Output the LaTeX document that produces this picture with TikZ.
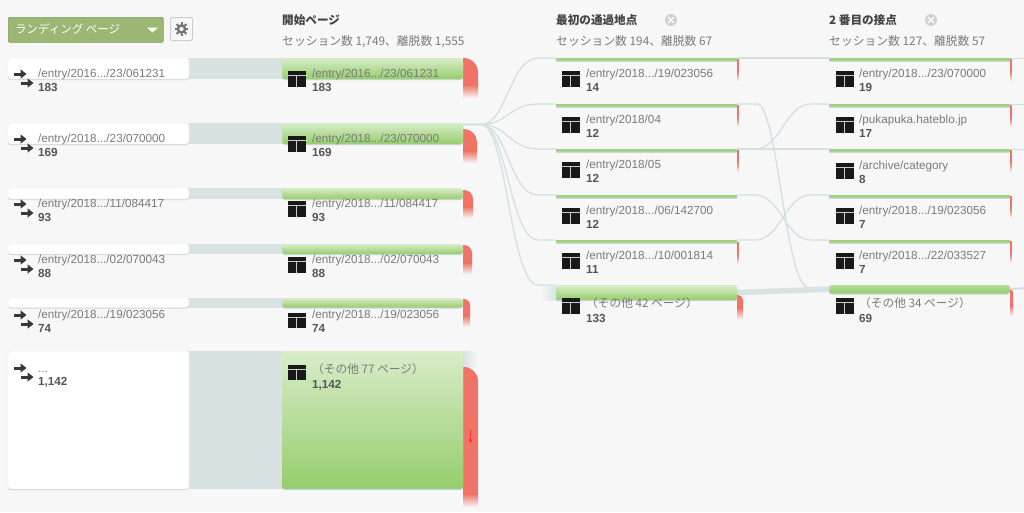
\documentclass[tikz,border=0pt]{standalone}
\usepackage{fontspec}
\setmainfont{Liberation Sans}
\newfontfamily\jpf{Noto Sans CJK JP}
\usetikzlibrary{arrows.meta,shadows,calc}
\definecolor{bgc}{HTML}{F7F7F7}
\definecolor{bandc}{HTML}{D8E2E3}
\definecolor{linec}{HTML}{D2E1E0}
\definecolor{grnT}{HTML}{D8ECC9}
\definecolor{grnB}{HTML}{96CD6C}
\definecolor{redc}{HTML}{EF7467}
\definecolor{txtc}{HTML}{7A7A7A}
\definecolor{numc}{HTML}{555555}
\definecolor{headc}{HTML}{444444}
\definecolor{shc}{HTML}{CBD7D7}
\definecolor{btnc}{HTML}{9CB673}
\definecolor{btnd}{HTML}{7F9A58}
\tikzset{
  box/.style={anchor=north west,inner sep=0pt,outer sep=0pt,rounded corners=3pt,minimum width=181pt,
    drop shadow={shadow xshift=0pt,shadow yshift=-1.2pt,fill=shc,opacity=1}},
  whitecard/.style={box,fill=white,draw=shc!45,line width=0.4pt},
  greencard/.style={box,top color=grnT,bottom color=grnB},
  greenbar/.style={box,rounded corners=0.5pt,fill=grnB!90!white,
    drop shadow={shadow xshift=0pt,shadow yshift=-1pt,fill=shc,opacity=0.7}},
  flowline/.style={draw=linec,line width=1.3pt,line cap=round},
  pagetxt/.style={anchor=base west,inner sep=0pt,text=txtc,font=\fontsize{11.7}{12}\selectfont},
  pagecnt/.style={anchor=base west,inner sep=0pt,text=numc,font=\fontsize{11.7}{12}\selectfont\bfseries},
  headtitle/.style={anchor=base west,inner sep=0pt,text=headc,font=\jpf\fontsize{11.6}{12}\selectfont\bfseries},
  headsub/.style={anchor=base west,inner sep=0pt,text=txtc,font=\jpf\fontsize{11.8}{12}\selectfont},
  closeic/.style={circle,fill=black!18,minimum size=12pt,inner sep=0pt},
}
% name, x, text y, count y, text, count
\newcommand{\rowlab}[6]{%
  \node[pagetxt] (#1t) at (#2,#3+4) {#5};
  \node[pagecnt] (#1c) at (#2,#4+4) {#6};}
% page icon: left x, top y, height
\newcommand{\pageic}[3]{%
  \fill[black!90] (#1,#2) rectangle ++(17.5,#3);
  \fill[white!80!black] (#1,#2+4) rectangle ++(17.5,1);
  \fill[white!80!black] (#1+8.3,#2+5) rectangle ++(1,#3-5);}
% entrance icon: x, y
\newcommand{\entryic}[2]{%
  \draw[line width=3pt,draw=black!78,-{Triangle[width=9pt,length=6pt]}] (#1,#2) -- ++(12.5,0);
  \draw[line width=3pt,draw=black!78,-{Triangle[width=9pt,length=6pt]}] (#1+7,#2+9) -- ++(12.5,0);}
% exit flag: left, top, right, bottom, radius, fade length
\newcommand{\exitflag}[6]{%
  \fill[redc] (#1,#2) -- (#3-#5,#2) .. controls (#3-0.45*#5,#2) and (#3,#2+0.45*#5) .. (#3,#2+#5)
     -- (#3,#4-#6) -- (#1,#4-#6) -- cycle;
  \shade[top color=redc,bottom color=bgc] (#1,#4-#6-0.2) rectangle (#3,#4);}
% thin exit marker: x, top
\newcommand{\thinexit}[3]{%
  \fill[redc] (#1,#2) rectangle (#1+#3,#2+13);
  \shade[top color=redc,bottom color=bgc] (#1,#2+13) rectangle (#1+#3,#2+22);}
\begin{document}
\begin{tikzpicture}[x=1pt,y=-1pt]
\useasboundingbox (0,0) rectangle (1024,512);
\fill[bgc] (0,0) rectangle (1024,512);

% top controls
\node[anchor=north west,inner sep=0pt,rounded corners=2pt,minimum width=155pt,minimum height=25pt,
  fill=btnc,draw=btnd,line width=0.7pt] (btn) at (8,17) {};
\node[anchor=west,inner sep=0pt,text=white,font=\jpf\fontsize{11.5}{12}\selectfont] (btnt) at (15,29.5) {ランディング ページ};
\fill[white] (147,27.5) -- (158,27.5) -- (152.5,32.5) -- cycle;
\node[anchor=north west,inner sep=0pt,rounded corners=2pt,minimum width=22pt,minimum height=23pt,
  fill=bgc,draw=black!20,line width=1pt] (gearbox) at (170,17) {};
\draw[black!55,line width=2.4pt] (gearbox.center) circle[radius=3.6pt];
\foreach \a in {0,45,...,315}{
  \draw[black!55,line width=2pt] (gearbox.center) ++(\a:4.5pt) -- ++(\a:2.4pt);
}

% headers
\node[headtitle] (h1) at (282,24) {開始ページ};
\node[headsub] (h1s) at (282,45) {セッション数 1,749、離脱数 1,555};
\node[headtitle] (h2) at (556,24) {最初の通過地点};
\node[headsub] (h2s) at (556,45) {セッション数 194、離脱数 67};
\node[headtitle] (h3) at (829,24) {2 番目の接点};
\node[headsub] (h3s) at (829,45) {セッション数 127、離脱数 57};
\node[closeic] (x1) at (671,20) {};
\draw[white,line width=1.1pt] (x1.center) +(-2.8,-2.8) -- +(2.8,2.8) +(-2.8,2.8) -- +(2.8,-2.8);
\node[closeic] (x2) at (931,20) {};
\draw[white,line width=1.1pt] (x2.center) +(-2.8,-2.8) -- +(2.8,2.8) +(-2.8,2.8) -- +(2.8,-2.8);

% bands between landing and start columns
\fill[bandc] (185,58) rectangle (286,79);
\fill[bandc] (185,123) rectangle (286,144);
\fill[bandc] (185,188) rectangle (286,199);
\fill[bandc] (185,244) rectangle (286,254);
\fill[bandc] (185,298) rectangle (286,308);
\fill[bandc] (185,351) rectangle (286,489);
% faint continuation beside the biggest box
\shade[left color=bandc,right color=bgc] (463,351) rectangle (478,367);
% faint fan entering the waypoint group
\shade[left color=bgc,right color=bandc] (540,286) rectangle (557,300);

% exits of start column
\exitflag{463}{58}{478}{98}{14}{13}
\exitflag{463}{129}{477}{163}{13}{12}
\exitflag{463}{190}{473}{218}{9}{11}
\exitflag{463}{245}{472}{274}{8}{11}
\exitflag{463}{299}{470}{327}{6}{11}
\exitflag{463}{367}{478}{507}{14}{13}
\coordinate (da) at (470.5,430);
\coordinate (db) at (470.5,443);
\draw[draw=red!55!redc,line width=0.7pt,-{Stealth[open,width=4.5pt,length=4.5pt]}] (da) -- (db);

% landing column
\node[whitecard,minimum height=21pt] (l1) at (8,58) {};
\node[whitecard,minimum height=21pt] (l2) at (8,123) {};
\node[whitecard,minimum height=11pt] (l3) at (8,188) {};
\node[whitecard,minimum height=10pt] (l4) at (8,244) {};
\node[whitecard,minimum height=9.5pt] (l5) at (8,298) {};
\node[whitecard,minimum height=138pt] (l6) at (8,351) {};

% start column
\node[greencard,minimum height=21pt] (s1) at (282,58) {};
\node[greencard,minimum height=21pt] (s2) at (282,123) {};
\node[greencard,minimum height=11pt] (s3) at (282,188) {};
\node[greencard,minimum height=10pt] (s4) at (282,244) {};
\node[greencard,minimum height=9.5pt] (s5) at (282,298) {};
\node[greencard,minimum height=138pt] (s6) at (282,351) {};

% first waypoint column
\node[greenbar,minimum height=2.6pt] (a1) at (556,58) {};
\node[greenbar,minimum height=2.6pt] (a2) at (556,104) {};
\node[greenbar,minimum height=2.6pt] (a3) at (556,149) {};
\node[greenbar,minimum height=2.6pt] (a4) at (556,195) {};
\node[greenbar,minimum height=2.6pt] (a5) at (556,240) {};
\node[greencard,rounded corners=2pt,minimum height=15pt] (a6) at (556,285) {};

% second column
\node[greenbar,minimum height=2.6pt] (b1) at (829,58) {};
\node[greenbar,minimum height=2.6pt] (b2) at (829,104) {};
\node[greenbar,minimum height=2.6pt] (b3) at (829,149) {};
\node[greenbar,minimum height=2.6pt] (b4) at (829,195) {};
\node[greenbar,minimum height=2.6pt] (b5) at (829,240) {};
\node[greencard,rounded corners=3pt,top color=grnB!70!white,bottom color=grnB,minimum height=8.5pt] (b6) at (829,285) {};

% right edge
\coordinate (e1) at (1024,58);
\coordinate (e2) at (1024,104);
\coordinate (e3) at (1024,150);
\coordinate (e6) at (1024,288);

% connectors from start column
\foreach \t in {a1,a2,a3,a4,a5,a6}{
  \draw[flowline] (s2.north east) ++(0,1.5) -- ++(18,0)
    .. controls +(26,0) and +(-28,0) .. ($(\t.north west)+(-18,0)$) -- (\t.north west);
}
% connectors between waypoint columns
\draw[flowline] (a1.north east) -- (b1.north west);
\draw[flowline] (a3.north east) -- (b3.north west);
\draw[flowline] (a2.north east) -- ++(20,0) .. controls +(21,0) and +(-24,0) .. ($(b6.north west)+(-20,3)$) -- ($(b6.north west)+(0,3)$);
\draw[flowline] (a3.north east) -- ++(18,0) .. controls +(26,0) and +(-26,0) .. ($(b2.north west)+(-18,0)$) -- (b2.north west);
\draw[flowline] (a4.north east) -- ++(18,0) .. controls +(26,0) and +(-26,0) .. ($(b5.north west)+(-18,0)$) -- (b5.north west);
\draw[flowline] (a5.north east) -- ++(18,0) .. controls +(26,0) and +(-26,0) .. ($(b4.north west)+(-18,0)$) -- (b4.north west);
\draw[draw=bandc,line width=5.5pt] (a6.east) -- (b6.west);
% faint lines leaving last column
\draw[draw=linec,line width=1pt] (b1.north east) -- (e1);
\draw[draw=linec,line width=1pt] (b2.north east) -- (e2);
\draw[draw=linec,line width=1pt] (b3.north east) -- (e3);
\draw[draw=linec,line width=2pt] (b6.east) -- (e6);

% exit markers for thin columns
\thinexit{737}{59}{1.5}
\thinexit{737}{105}{1.5}
\thinexit{737}{150}{1.5}
\thinexit{737}{242}{1.5}
\thinexit{1010}{59}{1.5}
\thinexit{1010}{105}{1.5}
\thinexit{1010}{150}{1.5}
\thinexit{1010}{196}{1.5}
\thinexit{1010}{241}{1.5}
\exitflag{737}{295}{743}{320}{5}{12}
\exitflag{1010}{290}{1013}{316}{2}{10}

% icons
\entryic{14}{74} \entryic{14}{139} \entryic{14}{204} \entryic{14}{260} \entryic{14}{315} \entryic{14}{368}
\pageic{288}{71}{16} \pageic{288}{136}{16} \pageic{288}{201}{16} \pageic{288}{257}{16} \pageic{288}{313}{15} \pageic{288}{365}{15}
\pageic{562}{71}{16} \pageic{562}{117}{16} \pageic{562}{162}{16} \pageic{562}{208}{16} \pageic{562}{253}{16} \pageic{562}{298}{16}
\pageic{836}{71}{16} \pageic{836}{117}{16} \pageic{836}{163}{16} \pageic{836}{208}{16} \pageic{836}{253}{16} \pageic{836}{298}{16}

% labels
\rowlab{lo}{38}{73}{87}{/entry/2016.../23/061231}{183}
\rowlab{lw}{38}{138}{152}{/entry/2018.../23/070000}{169}
\rowlab{lh}{38}{203}{217}{/entry/2018.../11/084417}{93}
\rowlab{lf}{38}{259}{273}{/entry/2018.../02/070043}{88}
\rowlab{lv}{38}{314}{328}{/entry/2018.../19/023056}{74}
\rowlab{lx}{38}{368}{381}{...}{1,142}
\rowlab{so}{312}{73}{87}{/entry/2016.../23/061231}{183}
\rowlab{sw}{312}{138}{152}{/entry/2018.../23/070000}{169}
\rowlab{sh}{312}{203}{217}{/entry/2018.../11/084417}{93}
\rowlab{sf}{312}{259}{273}{/entry/2018.../02/070043}{88}
\rowlab{sv}{312}{314}{328}{/entry/2018.../19/023056}{74}
\rowlab{sx}{312}{369}{384}{\jpf （その他 77 ページ）}{1,142}
\rowlab{ao}{586}{73}{87}{/entry/2018.../19/023056}{14}
\rowlab{aw}{586}{119}{133}{/entry/2018/04}{12}
\rowlab{ah}{586}{164}{178}{/entry/2018/05}{12}
\rowlab{af}{586}{210}{224}{/entry/2018.../06/142700}{12}
\rowlab{av}{586}{255}{269}{/entry/2018.../10/001814}{11}
\rowlab{ax}{586}{303}{318}{\jpf （その他 42 ページ）}{133}
\rowlab{bo}{859}{73}{87}{/entry/2018.../23/070000}{19}
\rowlab{bw}{859}{119}{133}{/pukapuka.hateblo.jp}{17}
\rowlab{bh}{859}{165}{179}{/archive/category}{8}
\rowlab{bf}{859}{210}{224}{/entry/2018.../19/023056}{7}
\rowlab{bv}{859}{255}{269}{/entry/2018.../22/033527}{7}
\rowlab{bx}{859}{303}{318}{\jpf （その他 34 ページ）}{69}
\end{tikzpicture}
\end{document}
